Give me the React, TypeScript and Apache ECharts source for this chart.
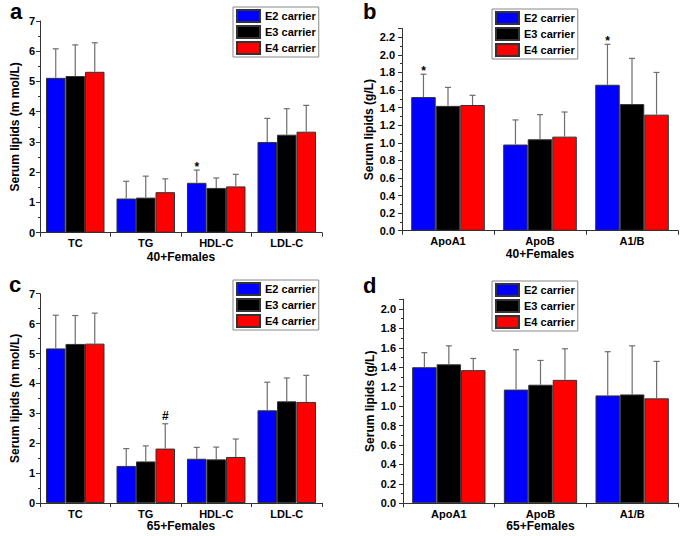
import React, { useEffect, useRef } from "react";
import * as echarts from "echarts";

const FONT = "'Liberation Sans', Arial, sans-serif";

const seriesNames = ["E2 carrier", "E3 carrier", "E4 carrier"];
const seriesColors = ["#0000FF", "#000000", "#FF0000"];

const lipidCategories = ["TC", "TG", "HDL-C", "LDL-C"];
const apoCategories = ["ApoA1", "ApoB", "A1/B"];

// Panel a: 40+ Females, lipids (mmol/L)
const aE2 = [5.12, 1.13, 1.65, 3.0];
const aE3 = [5.18, 1.16, 1.48, 3.24];
const aE4 = [5.32, 1.34, 1.53, 3.34];
const aE2Sd = [0.96, 0.57, 0.42, 0.78];
const aE3Sd = [1.03, 0.71, 0.33, 0.86];
const aE4Sd = [0.96, 0.44, 0.4, 0.87];
const aE2Marks = ["", "", "*", ""];
const aE3Marks = ["", "", "", ""];
const aE4Marks = ["", "", "", ""];

// Panel b: 40+ Females, apolipoproteins (g/L)
const bE2 = [1.52, 0.98, 1.66];
const bE3 = [1.42, 1.04, 1.44];
const bE4 = [1.43, 1.07, 1.32];
const bE2Sd = [0.26, 0.28, 0.46];
const bE3Sd = [0.21, 0.28, 0.52];
const bE4Sd = [0.11, 0.28, 0.48];
const bE2Marks = ["*", "", "*"];
const bE3Marks = ["", "", ""];
const bE4Marks = ["", "", ""];

// Panel c: 65+ Females, lipids (mmol/L)
const cE2 = [5.17, 1.24, 1.48, 3.1];
const cE3 = [5.32, 1.39, 1.46, 3.4];
const cE4 = [5.33, 1.82, 1.54, 3.38];
const cE2Sd = [1.11, 0.58, 0.38, 0.94];
const cE3Sd = [0.95, 0.52, 0.41, 0.78];
const cE4Sd = [1.02, 0.83, 0.6, 0.89];
const cE2Marks = ["", "", "", ""];
const cE3Marks = ["", "", "", ""];
const cE4Marks = ["", "#", "", ""];

// Panel d: 65+ Females, apolipoproteins (g/L)
const dE2 = [1.4, 1.17, 1.11];
const dE3 = [1.43, 1.22, 1.12];
const dE4 = [1.37, 1.27, 1.08];
const dE2Sd = [0.15, 0.41, 0.45];
const dE3Sd = [0.19, 0.25, 0.5];
const dE4Sd = [0.12, 0.32, 0.38];
const dE2Marks = ["", "", ""];
const dE3Marks = ["", "", ""];
const dE4Marks = ["", "", ""];

const panels = [
  {
    letter: "a", categories: lipidCategories, xName: "40+Females", yName: "Serum lipids (m mol/L)",
    means: [aE2, aE3, aE4], sds: [aE2Sd, aE3Sd, aE4Sd], marks: [aE2Marks, aE3Marks, aE4Marks],
    yMax: 7, interval: 1, decimals: 0,
    grid: { left: 40, top: 21, width: 282, height: 211.7 }, gap: 0.17,
    legend: { left: 233, top: 7 }, xNameGap: 18, yNameGap: 19, labelMargin: 5,
    letterPos: [10, 0],
  },
  {
    letter: "b", categories: apoCategories, xName: "40+Females", yName: "Serum lipids (g/L)",
    means: [bE2, bE3, bE4], sds: [bE2Sd, bE3Sd, bE4Sd], marks: [bE2Marks, bE3Marks, bE4Marks],
    yMax: 2.3, interval: 0.2, decimals: 1,
    grid: { left: 402, top: 28.5, width: 276, height: 202.2 }, gap: 0.2,
    legend: { left: 492, top: 9 }, xNameGap: 17, yNameGap: 27, labelMargin: 7,
    letterPos: [363, 0],
  },
  {
    letter: "c", categories: lipidCategories, xName: "65+Females", yName: "Serum lipids (m mol/L)",
    means: [cE2, cE3, cE4], sds: [cE2Sd, cE3Sd, cE4Sd], marks: [cE2Marks, cE3Marks, cE4Marks],
    yMax: 7, interval: 1, decimals: 0,
    grid: { left: 40, top: 293.7, width: 282, height: 209.3 }, gap: 0.17,
    legend: { left: 233, top: 280 }, xNameGap: 16, yNameGap: 19, labelMargin: 5,
    letterPos: [9, 273],
  },
  {
    letter: "d", categories: apoCategories, xName: "65+Females", yName: "Serum lipids (g/L)",
    means: [dE2, dE3, dE4], sds: [dE2Sd, dE3Sd, dE4Sd], marks: [dE2Marks, dE3Marks, dE4Marks],
    yMax: 2.1, interval: 0.2, decimals: 1,
    grid: { left: 403, top: 299.2, width: 275, height: 204.1 }, gap: 0.2,
    legend: { left: 492, top: 281 }, xNameGap: 16, yNameGap: 27, labelMargin: 7,
    letterPos: [363, 274],
  },
];

const AXIS_COLOR = "#333";
const ERR_COLOR = "#6e6e6e";

function makeErrorRender(seriesIdx: number, nSeries: number, gapFrac: number, marks: string[]) {
  return (params: any, api: any) => {
    const xi = api.value(0);
    const mean = api.value(1);
    const sd = api.value(2);
    const base = api.coord([xi, mean]);
    const top = api.coord([xi, mean + sd]);
    const band = api.size([1, 0])[0];
    const groupW = band * (1 - gapFrac);
    const barW = groupW / nSeries;
    const x = base[0] - groupW / 2 + barW * (seriesIdx + 0.5);
    const cap = 3;
    const children: any[] = [
      { type: "line", shape: { x1: x, y1: base[1], x2: x, y2: top[1] }, style: { stroke: ERR_COLOR, lineWidth: 1.2 } },
      { type: "line", shape: { x1: x - cap, y1: top[1], x2: x + cap, y2: top[1] }, style: { stroke: ERR_COLOR, lineWidth: 1.2 } },
    ];
    const mark = marks[params.dataIndex];
    if (mark) {
      children.push({
        type: "text",
        style: {
          x, y: top[1] + (mark === "*" ? -3 : -8), text: mark, align: "center", verticalAlign: "middle",
          font: `bold 12px ${FONT}`, fill: "#000",
        },
      });
    }
    return { type: "group", children };
  };
}

export default function App() {
  const ref = useRef<HTMLDivElement>(null);
  useEffect(() => {
    if (!ref.current) return;
    const chart = echarts.init(ref.current, null, { renderer: "svg" });
    const grid: any[] = [];
    const xAxis: any[] = [];
    const yAxis: any[] = [];
    const legend: any[] = [];
    const series: any[] = [];
    const graphic: any[] = [];
    panels.forEach((p, k) => {
      grid.push({ ...p.grid, containLabel: false });
      xAxis.push({
        type: "category", gridIndex: k, data: p.categories,
        name: p.xName, nameLocation: "middle", nameGap: p.xNameGap,
        nameTextStyle: { fontWeight: "bold", fontSize: 12, color: "#000", fontFamily: FONT },
        axisLine: { lineStyle: { color: AXIS_COLOR, width: 1 } },
        axisTick: { show: true, alignWithLabel: false, length: 4, lineStyle: { color: AXIS_COLOR } },
        axisLabel: { fontWeight: "bold", fontSize: 11, color: "#000", margin: 5, interval: 0, fontFamily: FONT },
        splitLine: { show: false },
      });
      yAxis.push({
        type: "value", gridIndex: k, min: 0, max: p.yMax, interval: p.interval,
        name: p.yName, nameLocation: "middle", nameGap: p.yNameGap,
        nameTextStyle: { fontWeight: "bold", fontSize: 12, color: "#000", fontFamily: FONT },
        axisLine: { show: true, lineStyle: { color: AXIS_COLOR, width: 1 } },
        axisTick: { show: true, length: 4, lineStyle: { color: AXIS_COLOR } },
        minorTick: { show: true, splitNumber: 2, length: 2, lineStyle: { color: AXIS_COLOR } },
        splitLine: { show: false },
        axisLabel: {
          fontWeight: "bold", fontSize: 11, color: "#000", margin: p.labelMargin, fontFamily: FONT,
          showMaxLabel: p.yMax / p.interval === Math.round(p.yMax / p.interval) ? true : false,
          formatter: (v: number) => v.toFixed(p.decimals),
        },
      });
      legend.push({
        left: p.legend.left, top: p.legend.top, orient: "vertical", data: seriesNames,
        itemWidth: 23, itemHeight: 12, itemGap: 2, icon: "rect",
        borderColor: "#888", borderWidth: 1, padding: [2, 3, 2, 3],
        textStyle: { fontWeight: "bold", fontSize: 11, color: "#000", fontFamily: FONT },
        selectedMode: false,
      });
      seriesNames.forEach((name, i) => {
        series.push({
          type: "bar", name, xAxisIndex: k, yAxisIndex: k, data: p.means[i],
          barGap: "0%", barCategoryGap: `${Math.round(p.gap * 100)}%`,
          itemStyle: { color: seriesColors[i], borderColor: "#333", borderWidth: 1 },
          z: 2,
        });
      });
      seriesNames.forEach((_, i) => {
        series.push({
          type: "custom", xAxisIndex: k, yAxisIndex: k,
          data: p.means[i].map((m, j) => [j, m, p.sds[i][j]]),
          encode: { x: 0, y: 1 },
          renderItem: makeErrorRender(i, seriesNames.length, p.gap, p.marks[i]),
          z: 3, silent: true,
        });
      });
      graphic.push({
        type: "text", left: p.letterPos[0], top: p.letterPos[1],
        style: { text: p.letter, font: `bold 22px ${FONT}`, fill: "#000" },
      });
    });
    chart.setOption({
      animation: false,
      backgroundColor: "#fff",
      textStyle: { fontFamily: FONT },
      grid, xAxis, yAxis, legend, series, graphic,
    });
    return () => chart.dispose();
  }, []);
  return <div ref={ref} style={{ position: "absolute", left: 0, top: 0, width: 685, height: 536 }} />;
}
